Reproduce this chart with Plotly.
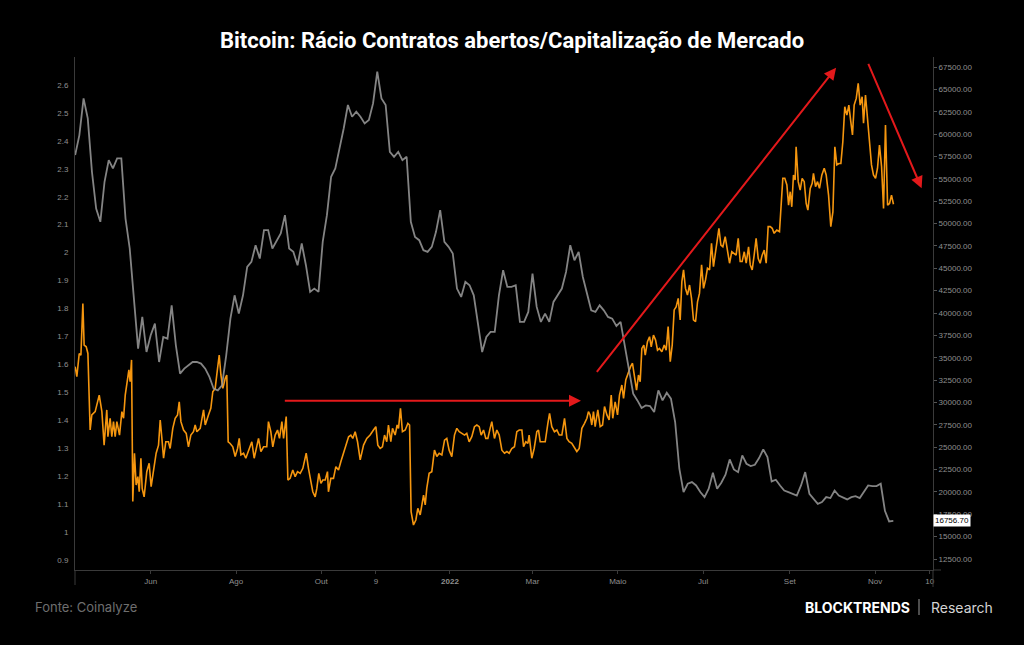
import pandas as pd
import plotly.graph_objects as go

# ---------------- data ----------------
ratio_start = "2021-04-08"
ratio_day_offset = [
    0, 1.2, 2.9, 4.1, 5.5, 6.4, 7.9, 9.1, 10.7, 11.9,
    14.3, 17.2, 19.1, 20.7, 22.6, 23.4, 25.0, 26.2, 27.4, 28.6,
    29.8, 31.7, 33.4, 34.6, 35.8, 37.4, 38.4, 39.3, 40.3, 41.2,
    42.4, 43.6, 44.8, 45.8, 47.0, 47.9, 49.3, 51.2, 52.9, 54.3,
    56.0, 57.9, 59.6, 60.8, 62.0, 63.2, 64.8, 66.7, 67.9, 69.8,
    71.5, 73.2, 74.4, 75.6, 77.5, 79.4, 81.0, 82.7, 84.6, 85.8,
    87.0, 89.4, 91.8, 93.0, 95.3, 97.0, 98.4, 100.1, 101.8, 103.0,
    104.2, 105.6, 107.3, 108.4, 109.4, 110.8, 112.7, 114.4, 116.1, 117.3,
    118.5, 120.4, 122.0, 123.9, 126.3, 128.0, 129.4, 131.1, 132.8, 134.7,
    137.0, 138.2, 139.9, 141.3, 143.0, 144.7, 146.1, 147.8, 149.0, 150.9,
    152.1, 153.7, 155.6, 157.3, 159.0, 160.9, 162.8, 165.2, 166.8, 168.5,
    169.9, 171.6, 172.8, 174.2, 175.7, 177.1, 178.8, 180.4, 181.1, 182.8,
    184.7, 186.4, 188.3, 190.0, 191.9, 193.8, 195.5, 197.1, 198.5, 200.2,
    201.9,
    203.8, 206.2, 208.5, 210.9, 213.3, 215.0, 216.4, 218.1, 219.7, 221.2,
    222.8, 224.0, 225.7, 226.9, 228.8, 230.2, 231.2, 232.6, 234.0, 236.0,
    237.9, 239.1, 240.2, 241.9, 243.6, 245.0, 246.7, 247.9, 249.1, 250.3,
    251.4, 253.1, 255.0, 256.9, 258.6, 260.3, 262.2, 264.1, 265.7, 267.4,
    269.3, 271.2, 272.9, 274.6, 276.5, 278.4, 280.0, 281.7, 283.6, 285.5,
    287.2, 288.9, 290.3, 292.0, 293.6, 295.1, 296.7, 297.9, 299.8, 301.5,
    303.2, 305.1, 307.0, 308.7, 310.3, 312.2, 314.1, 315.8, 317.5, 319.4,
    320.6, 322.2, 323.7, 324.6, 326.5, 328.2, 330.1, 331.3, 332.5, 334.2,
    336.1, 338.0, 339.2, 340.8, 342.7, 344.4, 346.1, 348.0, 349.9, 351.6,
    353.2, 355.1, 357.0, 358.7, 360.4, 362.3, 364.2, 365.9, 367.0, 368.2,
    369.4, 370.6, 371.8, 373.7, 375.4, 377.1, 378.5, 380.2, 381.8, 383.3,
    384.4, 386.1, 387.8, 389.2, 390.9, 392.1, 393.7, 395.6, 397.1, 398.5,
    399.9, 401.4, 402.8, 404.0, 405.2, 406.6,
    407.6, 409.2, 410.7, 411.9, 413.5, 415.0, 416.4, 417.8, 419.5, 421.2,
    422.6, 424.0, 425.5, 426.9, 428.3, 429.7, 431.2, 432.6, 433.8, 435.0,
    436.4, 437.8, 439.3, 440.7, 442.1, 443.6, 445.0, 446.4, 447.9, 449.3,
    450.7, 452.1, 453.6, 455.0, 456.4, 457.9, 459.3, 460.3, 461.7, 463.1,
    464.8, 466.4, 467.9, 469.5, 471.2, 472.6, 474.1, 475.5, 476.9, 478.4,
    479.8, 481.5, 482.7, 484.1, 485.5, 486.9, 488.4, 489.8, 491.2, 492.7,
    494.1, 495.5, 497.0, 498.4, 499.8, 501.7, 503.6, 504.6, 506.0, 507.4,
    508.9, 510.1, 511.3, 512.4, 513.6, 514.8, 515.5, 517.0, 518.4, 519.8,
    521.3, 522.7, 523.9, 525.6, 527.0, 527.9, 529.4, 530.8, 532.2, 533.9,
    535.6, 537.0, 538.7, 540.3, 541.8, 543.2, 544.6, 546.1, 547.5, 548.9,
    550.3, 551.8, 553.2, 554.6, 555.8, 557.0, 558.5, 559.9, 561.3, 562.7,
    563.7, 565.1, 566.6, 568.0, 569.4, 570.8, 572.3, 573.7, 575.1, 576.6,
    578.0, 579.4, 580.9, 582.3, 583.7, 585.1,
]
ratio_values = [
    1.592, 1.556, 1.639, 1.633, 1.818, 1.669, 1.663, 1.639, 1.365, 1.419,
    1.431, 1.490, 1.431, 1.311, 1.437, 1.341, 1.407, 1.341, 1.395, 1.341,
    1.395, 1.347, 1.431, 1.407, 1.490, 1.544, 1.580, 1.538, 1.616, 1.109,
    1.282, 1.168, 1.198, 1.144, 1.264, 1.156, 1.126, 1.216, 1.246, 1.162,
    1.216, 1.282, 1.311, 1.401, 1.335, 1.264, 1.323, 1.323, 1.299, 1.371,
    1.407, 1.419, 1.466, 1.395, 1.365, 1.353, 1.305, 1.347, 1.359, 1.383,
    1.359, 1.371, 1.437, 1.383, 1.419, 1.443, 1.502, 1.514, 1.586, 1.633,
    1.562, 1.514, 1.550, 1.562, 1.323, 1.317, 1.305, 1.270, 1.299, 1.335,
    1.276, 1.282, 1.264, 1.288, 1.323, 1.264, 1.299, 1.335, 1.288, 1.305,
    1.305, 1.395, 1.359, 1.305, 1.347, 1.365, 1.335, 1.395, 1.335, 1.413,
    1.186, 1.192, 1.222, 1.198, 1.216, 1.210, 1.228, 1.282, 1.228, 1.174,
    1.144, 1.126, 1.156, 1.210, 1.174, 1.186, 1.186, 1.216, 1.144, 1.192,
    1.192, 1.234, 1.222, 1.252, 1.282, 1.311, 1.341, 1.347, 1.335, 1.359,
    1.323,
    1.258, 1.311, 1.335, 1.347, 1.365, 1.377, 1.311, 1.299, 1.305, 1.347,
    1.323, 1.383, 1.323, 1.371, 1.347, 1.383, 1.371, 1.443, 1.359, 1.365,
    1.389, 1.383, 1.073, 1.025, 1.043, 1.085, 1.061, 1.097, 1.132, 1.097,
    1.156, 1.210, 1.216, 1.293, 1.270, 1.282, 1.276, 1.329, 1.335, 1.293,
    1.270, 1.347, 1.371, 1.359, 1.353, 1.347, 1.353, 1.323, 1.341, 1.377,
    1.383, 1.377, 1.347, 1.365, 1.335, 1.335, 1.371, 1.395, 1.335, 1.365,
    1.347, 1.293, 1.282, 1.288, 1.282, 1.299, 1.305, 1.359, 1.365, 1.365,
    1.305, 1.323, 1.317, 1.347, 1.264, 1.299, 1.359, 1.365, 1.323, 1.323,
    1.323, 1.389, 1.425, 1.377, 1.359, 1.365, 1.347, 1.347, 1.407, 1.335,
    1.323, 1.317, 1.299, 1.288, 1.299, 1.371, 1.389, 1.407, 1.431, 1.419,
    1.383, 1.431, 1.377, 1.437, 1.377, 1.383, 1.449, 1.419, 1.401, 1.490,
    1.407, 1.466, 1.419, 1.490, 1.526, 1.478, 1.544, 1.574, 1.592, 1.604,
    1.550, 1.508, 1.562, 1.538, 1.657, 1.669,
    1.633, 1.681, 1.699, 1.663, 1.705, 1.687, 1.651, 1.657, 1.645, 1.669,
    1.651, 1.735, 1.610, 1.669, 1.795, 1.806, 1.836, 1.759, 1.896, 1.938,
    1.872, 1.848, 1.884, 1.836, 1.759, 1.753, 1.824, 1.854, 1.956, 1.872,
    1.902, 1.944, 1.938, 2.033, 1.950, 2.003, 2.051, 2.087, 2.027, 2.021,
    2.057, 2.015, 1.962, 2.003, 1.997, 1.991, 2.051, 1.968, 1.968, 2.003,
    1.962, 2.021, 1.956, 1.938, 1.991, 2.051, 1.979, 1.962, 1.991, 2.009,
    1.962, 2.093, 2.093, 2.087, 2.069, 2.081, 2.075, 2.170, 2.266, 2.266,
    2.242, 2.170, 2.218, 2.164, 2.278, 2.260, 2.379, 2.254, 2.224, 2.266,
    2.254, 2.176, 2.152, 2.230, 2.248, 2.284, 2.236, 2.254, 2.230, 2.278,
    2.302, 2.278, 2.206, 2.093, 2.146, 2.379, 2.314, 2.319, 2.319, 2.397,
    2.522, 2.492, 2.528, 2.469, 2.421, 2.528, 2.552, 2.606, 2.528, 2.558,
    2.463, 2.564, 2.481, 2.391, 2.314, 2.278, 2.266, 2.302, 2.385, 2.308,
    2.158, 2.457, 2.170, 2.176, 2.206, 2.173,
]

btc_start = "2021-04-08"
btc_step = "3D"
btc_price = [
    57650, 59890, 63990, 61750, 55780, 51680, 50190, 54670, 57090, 56160,
    57280, 57280, 50560, 47210, 41610, 36020, 39560, 35640, 37510, 38810,
    34520, 37320, 37130, 40860, 36390, 33220, 33780, 34150, 34520, 34520,
    34340, 33780, 32850, 31540, 31350, 31910, 35270, 39370, 41980, 39930,
    41980, 45150, 45710, 47580, 46090, 49260, 49260, 47210, 48140, 48890,
    50940, 47210, 46830, 45340, 47770, 45340, 42360, 42730, 42360, 47950,
    50940, 55230, 56160, 58210, 60630, 63250, 61940, 62500,
    61940, 61190, 61570, 63430, 66980, 63990, 63250, 58020, 57460, 58020,
    57090, 57460, 50190, 48510, 48140, 47020, 46830, 47390, 49070, 51490,
    47950, 47390, 46650, 42730, 41800, 43480, 43100, 41980, 38630, 35640,
    37320, 37880, 37880, 41980, 44780, 42920, 42920, 43100, 39000, 39000,
    40120, 44410, 40680, 39000, 39930, 39000, 41240, 41980, 42730, 44590,
    47580, 45900, 46830, 44030, 41980, 40300, 40120, 40860, 40300, 39560,
    39370, 38550, 39000, 36390, 33590, 30980, 30230,
    29380, 29670, 29600, 28930, 31350, 30230, 31090, 30420, 27810, 22590,
    19980, 20910, 21100, 20720, 19980, 19420, 20350, 22140, 20350, 21020,
    21920, 23630, 22510, 22210, 24080, 23150, 22890, 23030, 23780, 24750,
    23890, 21170, 21360, 20720, 20160, 19980, 19790, 19600, 20720, 22210,
    19790, 19230, 18670, 18860, 19420, 19310, 20160, 19600, 19420, 19160,
    19420, 19530, 19310, 20050, 20720, 20650, 20650, 20910, 17890, 16700,
    16756.70,
]
last_price = 16756.70

x_tick_dates = ["2021-06-01", "2021-08-01", "2021-10-01", "2021-11-09", "2022-01-01",
                "2022-03-01", "2022-05-01", "2022-07-01", "2022-09-01", "2022-11-01", "2022-12-10"]
x_tick_labels = ["Jun", "Ago", "Out", "9", "<b>2022</b>", "Mar", "Maio", "Jul", "Set", "Nov", "10"]
left_ticks = [0.9, 1.0, 1.1, 1.2, 1.3, 1.4, 1.5, 1.6, 1.7, 1.8, 1.9, 2.0, 2.1, 2.2, 2.3, 2.4, 2.5, 2.6]
right_ticks = [12500, 15000, 17500, 20000, 22500, 25000, 27500, 30000, 32500, 35000, 37500, 40000,
               42500, 45000, 47500, 50000, 52500, 55000, 57500, 60000, 62500, 65000, 67500]

# ---------------- figure ----------------
ratio_dates = pd.Timestamp(ratio_start) + pd.to_timedelta(ratio_day_offset, unit="D")
btc_dates = pd.date_range(btc_start, periods=len(btc_price), freq=btc_step)

AX = "#3a3a3a"
TICKFONT = dict(family="Liberation Sans", size=8, color="#8f8f8f")
RED = "#e3191b"

fig = go.Figure()
fig.add_trace(go.Scatter(x=ratio_dates, y=ratio_values, mode="lines",
                         line=dict(color="#f5960f", width=1.6), yaxis="y", hoverinfo="skip"))
fig.add_trace(go.Scatter(x=btc_dates, y=btc_price, mode="lines",
                         line=dict(color="rgba(155,155,155,0.85)", width=1.8), yaxis="y2",
                         hoverinfo="skip"))

x_range = ["2021-04-07 21:00", "2022-12-12 09:00"]

fig.update_layout(
    width=1024, height=645,
    paper_bgcolor="#000000", plot_bgcolor="#000000",
    margin=dict(l=75, r=91, t=57, b=75),
    showlegend=False,
    title=dict(text="<b>Bitcoin: Rácio Contratos abertos/Capitalização de Mercado</b>",
               font=dict(family="Roboto", size=22, color="#ffffff"),
               x=0.5, xref="container", xanchor="center",
               y=1 - 40 / 645, yref="container", yanchor="middle"),
    xaxis=dict(type="date", range=x_range, tickvals=x_tick_dates, ticktext=x_tick_labels,
               showgrid=False, zeroline=False, showline=True, linecolor=AX, linewidth=1,
               ticks="outside", ticklen=3, tickcolor=AX, tickfont=TICKFONT),
    yaxis=dict(range=[0.864, 2.7002], tickvals=left_ticks, showgrid=False, zeroline=False,
               showline=True, linecolor=AX, linewidth=1, ticks="outside", ticklen=4,
               tickcolor="rgba(0,0,0,0)", tickfont=TICKFONT),
    yaxis2=dict(range=[11270, 68618], overlaying="y", side="right", tickvals=right_ticks,
                tickformat=".2f", showgrid=False, zeroline=False, showline=True,
                linecolor=AX, linewidth=1, ticks="outside", ticklen=3, tickcolor="#555555",
                tickfont=TICKFONT),
)

# red trend arrows
arrows = [
    (("2022-04-04 16:00", 1.470), ("2021-09-03 20:00", 1.470)),
    (("2022-10-04 02:00", 2.662), ("2022-04-15 04:00", 1.568)),
    (("2022-12-04 06:00", 2.230), ("2022-10-26 16:00", 2.681)),
]
for (tx, ty), (sx, sy) in arrows:
    fig.add_annotation(x=tx, y=ty, ax=sx, ay=sy, xref="x", yref="y", axref="x", ayref="y",
                       text="", showarrow=True, arrowhead=2, arrowsize=1.2, arrowwidth=2,
                       arrowcolor=RED)

# last price label
fig.add_annotation(x=1, xref="paper", xanchor="left", y=last_price, yref="y2",
                   text=f"{last_price:.2f}", showarrow=False, bgcolor="#ffffff",
                   font=dict(family="Liberation Sans", size=8, color="#000000"), borderpad=1)

# footer texts
fig.add_annotation(x=(33 - 75) / 858, y=(570 - 607) / 513, xref="paper", yref="paper",
                   xanchor="left", yanchor="middle", text="Fonte: Coinalyze", showarrow=False,
                   font=dict(family="Inter", size=13, color="#6e6e6e"))
fig.add_annotation(x=(803 - 75) / 858, y=(570 - 607) / 513, xref="paper", yref="paper",
                   xanchor="left", yanchor="middle", text="<b>BLOCKTRENDS</b>", showarrow=False,
                   font=dict(family="Inter", size=14, color="#ffffff"))
fig.add_annotation(x=(929 - 75) / 858, y=(570 - 607) / 513, xref="paper", yref="paper",
                   xanchor="left", yanchor="middle", text="Research", showarrow=False,
                   font=dict(family="Inter", size=14, color="#d4d4d4"))

# separator and axis extensions
fig.add_shape(type="line", xref="paper", yref="paper", x0=(919 - 75) / 858, x1=(919 - 75) / 858,
              y0=(570 - 599) / 513, y1=(570 - 615) / 513, line=dict(color="#9a9a9a", width=1))
fig.add_shape(type="line", xref="paper", yref="paper", x0=0, x1=0, y0=-15 / 513, y1=0,
              line=dict(color=AX, width=1))
fig.add_shape(type="line", xref="paper", yref="paper", x0=1, x1=1, y0=-17 / 513, y1=0,
              line=dict(color=AX, width=1))
fig.add_shape(type="line", xref="paper", yref="paper", x0=1, x1=1 + 8 / 858, y0=0, y1=0,
              line=dict(color=AX, width=1))

fig.write_html("out.html")
